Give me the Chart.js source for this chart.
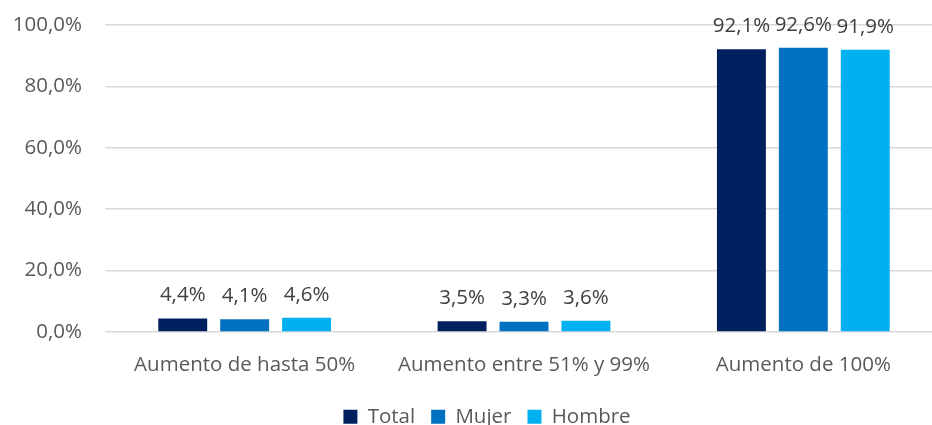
<!DOCTYPE html>
<html>
<head>
<meta charset="utf-8">
<script src="https://cdn.jsdelivr.net/npm/chart.js@4/dist/chart.umd.min.js"></script>
<style>
html,body{margin:0;padding:0;background:#fff;overflow:hidden;}
#wrap{width:932px;height:425px;}
</style>
</head>
<body>
<div id="wrap"><canvas id="c" width="932" height="425"></canvas></div>
<script>
const categories = ["Aumento de hasta 50%", "Aumento entre 51% y 99%", "Aumento de 100%"];
const total = [4.4, 3.5, 92.1];
const mujer = [4.1, 3.3, 92.6];
const hombre = [4.6, 3.6, 91.9];
const seriesNames = ["Total", "Mujer", "Hombre"];
const yTicks = [0, 20, 40, 60, 80, 100];

const FONT = "'Open Sans', sans-serif";
const FS = 20.5;
const RIGHT = -11;
const PLOT_RIGHT = 943;
const fmt = v => v.toFixed(1).replace('.', ',') + '%';

const labelPlugin = {
  id: 'barLabels',
  afterLayout(chart) {
    if (chart.legend) { chart.legend.left += 15.5; chart.legend.right += 15.5; }
    const ca = chart.chartArea;
    ca.right = PLOT_RIGHT; ca.width = ca.right - ca.left;
    const x = chart.scales.x;
    x.right = PLOT_RIGHT; x.width = x.right - x.left;
    x.configure();
    x._gridLineItems = null; x._labelItems = null;
    chart.scales.y._gridLineItems = null;
  },
  afterDatasetsDraw(chart) {
    const ctx = chart.ctx;
    ctx.save();
    ctx.font = FS + "px " + FONT;
    ctx.fillStyle = '#404040';
    ctx.textAlign = 'center';
    ctx.textBaseline = 'alphabetic';
    chart.data.datasets.forEach((ds, i) => {
      const meta = chart.getDatasetMeta(i);
      meta.data.forEach((el, j) => {
        ctx.fillText(fmt(ds.data[j]), el.x, el.y - 17);
      });
    });
    ctx.restore();
  }
};

new Chart(document.getElementById('c'), {
  type: 'bar',
  data: {
    labels: categories,
    datasets: [
      {label: seriesNames[0], data: total, backgroundColor: '#002060'},
      {label: seriesNames[1], data: mujer, backgroundColor: '#0070C0'},
      {label: seriesNames[2], data: hombre, backgroundColor: '#00B0F0'}
    ]
  },
  options: {
    responsive: false,
    animation: false,
    devicePixelRatio: 1,
    layout: {padding: {top: 25, left: 0, right: RIGHT, bottom: -12}},
    datasets: {bar: {categoryPercentage: 0.665, barPercentage: 0.79}},
    plugins: {
      legend: {
        position: 'bottom',
        labels: {
          font: {family: FONT, size: FS},
          color: '#595959',
          boxWidth: 14,
          boxHeight: 14,
          padding: 16
        }
      },
      tooltip: {enabled: false}
    },
    scales: {
      x: {
        grid: {display: false},
        border: {display: false},
        ticks: {font: {family: FONT, size: FS}, color: '#595959', padding: 13},
        afterFit: s => { s.paddingLeft = 0; s.paddingRight = RIGHT; }
      },
      y: {
        min: 0, max: 100,
        afterBuildTicks: axis => { axis.ticks = yTicks.map(v => ({value: v})); },
        grid: {color: '#d9d9d9', lineWidth: 1.5, drawTicks: false},
        border: {display: false},
        ticks: {font: {family: FONT, size: FS}, color: '#595959', padding: 23, callback: v => fmt(v)},
        afterFit: s => { s.width = 105; s.paddingTop = 0; s.paddingBottom = 0; s.paddingLeft = 0; s.paddingRight = RIGHT; }
      }
    }
  },
  plugins: [labelPlugin]
});
</script>
</body>
</html>
